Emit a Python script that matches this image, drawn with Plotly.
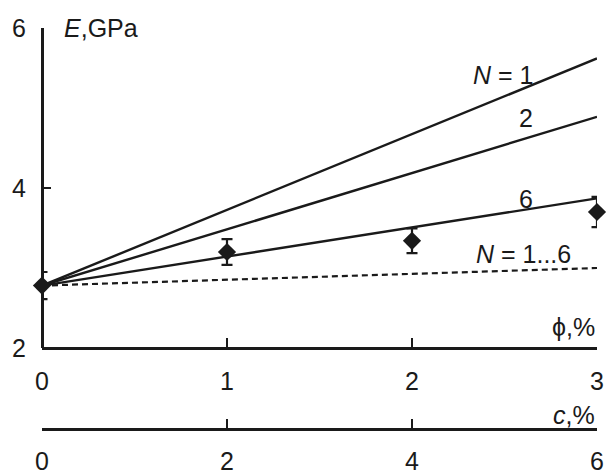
import plotly.graph_objects as go

# Experimental points
phi = [0, 1, 2, 3]
E_exp = [2.78, 3.20, 3.34, 3.70]
E_err = [0.17, 0.16, 0.155, 0.19]

# Model lines (phi from 0 to 3 %)
phi_line = [0, 3]
E_N1 = [2.78, 5.62]
E_N2 = [2.78, 4.89]
E_N6 = [2.78, 3.87]
E_N16 = [2.78, 3.00]

# Axis ticks
y_ticks = [2, 4, 6]
phi_ticks = [0, 1, 2, 3]
c_ticks = [0, 2, 4, 6]

FONT = "Liberation Sans, Arial, sans-serif"
FS = 25
BLACK = "#1a1a1a"

fig = go.Figure()

for yv in (E_N1, E_N2, E_N6):
    fig.add_trace(go.Scatter(x=phi_line, y=yv, mode="lines",
                             line=dict(color=BLACK, width=2.4),
                             showlegend=False, cliponaxis=False))
fig.add_trace(go.Scatter(x=phi_line, y=E_N16, mode="lines",
                         line=dict(color=BLACK, width=2.2, dash="6px,4px"),
                         showlegend=False, cliponaxis=False))
fig.add_trace(go.Scatter(x=phi, y=E_exp, mode="markers",
                         marker=dict(symbol="diamond", size=14, color=BLACK),
                         error_y=dict(type="data", array=E_err, color=BLACK,
                                      thickness=2.2, width=5.5),
                         showlegend=False, cliponaxis=False))

# carrier traces so that the extra axes are drawn (no visible marks)
def carrier(xs, xaxis, yaxis, horizontal=True):
    if horizontal:
        fig.add_trace(go.Scatter(x=xs, y=[None] * len(xs), xaxis=xaxis, yaxis=yaxis,
                                 mode="markers", marker=dict(opacity=0),
                                 showlegend=False, hoverinfo="skip"))
    else:
        fig.add_trace(go.Scatter(x=[None] * len(xs), y=xs, xaxis=xaxis, yaxis=yaxis,
                                 mode="markers", marker=dict(opacity=0),
                                 showlegend=False, hoverinfo="skip"))

carrier(c_ticks, "x2", "y")
carrier(phi_ticks, "x3", "y")
carrier(c_ticks, "x4", "y")
carrier(y_ticks, "x", "y2", horizontal=False)

H_PX = 470
TOP = 28
Y2BOT = 348   # pixel of primary x axis
XBOT2 = 429   # pixel of secondary x axis
paper_h = XBOT2 - TOP
dom_bottom = (XBOT2 - Y2BOT) / paper_h

tick_axis = dict(showgrid=False, zeroline=False, showline=True, automargin=False,
                 linecolor=BLACK, linewidth=2.5, ticks="inside",
                 tickcolor=BLACK, tickwidth=2.2, showticklabels=False)
label_axis = dict(showgrid=False, zeroline=False, showline=False, automargin=False,
                  ticks="", showticklabels=True,
                  tickfont=dict(family=FONT, size=FS, color=BLACK))

fig.update_layout(
    width=608, height=470,
    margin=dict(l=42, r=11, t=TOP, b=H_PX - XBOT2),
    plot_bgcolor="white", paper_bgcolor="white",
    font=dict(family=FONT, size=FS, color=BLACK),
    # phi axis: ticks / labels
    xaxis=dict(range=[0, 3], tickvals=phi_ticks, ticklen=9, anchor="free",
               position=dom_bottom, side="bottom", **tick_axis),
    xaxis3=dict(range=[0, 3], tickvals=phi_ticks, ticktext=[str(v) for v in phi_ticks],
                overlaying="x", anchor="y", side="bottom", ticklabelstandoff=16,
                **label_axis),
    # E axis: ticks / labels
    yaxis=dict(range=[2, 6], tickvals=y_ticks, domain=[dom_bottom, 1], ticklen=7,
               anchor="free", position=0, side="left", **tick_axis),
    yaxis2=dict(range=[2, 6], tickvals=y_ticks, ticktext=[str(v) for v in y_ticks],
                overlaying="y", anchor="x", side="left", ticklabelstandoff=15,
                **label_axis),
    # c axis: ticks / labels
    xaxis2=dict(range=[0, 6], tickvals=c_ticks, overlaying="x", anchor="free",
                position=0, side="bottom", ticklen=9, **tick_axis),
    xaxis4=dict(range=[0, 6], tickvals=c_ticks, ticktext=[str(v) for v in c_ticks],
                overlaying="x", anchor="free", position=0, side="bottom",
                ticklabelstandoff=15, **label_axis),
)

def ann(text, x, y, xanchor="center", yanchor="middle", xref="x", yref="y"):
    fig.add_annotation(text=text, x=x, y=y, xref=xref, yref=yref,
                       xanchor=xanchor, yanchor=yanchor, showarrow=False,
                       font=dict(family=FONT, size=FS, color=BLACK))

ann("<i>E</i>,GPa", 0.108, 6, xanchor="left")
ann("<i>N</i> = 1", 2.49, 5.41)
ann("2", 2.616, 4.875)
ann("6", 2.616, 3.86)
ann("<i>N</i> = 1...6", 2.605, 3.175)
ann("\u03d5,%", 3, 2.26, xanchor="right")
ann("<i>c</i>,%", 1.0, (XBOT2 - 415) / paper_h, xanchor="right", xref="paper", yref="paper")

fig.write_html("out.html", config={"displayModeBar": False},
               post_script="document.body.style.margin='0';"
                           "document.body.style.overflow='hidden';")
